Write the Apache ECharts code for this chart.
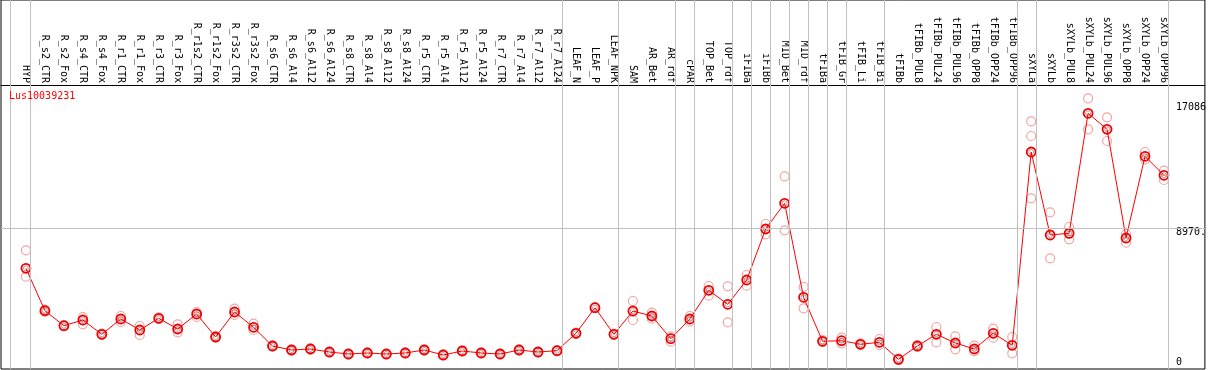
<!DOCTYPE html>
<html><head><meta charset="utf-8">
<script src="https://cdn.jsdelivr.net/npm/echarts@6/dist/echarts.min.js"></script>
<style>html,body{margin:0;padding:0;background:#fff}#c{width:1209px;height:370px}</style>
</head><body><div id="c"></div>
<script>
const geneName = 'Lus10039231';
const categories = ['HYP','R_s2_CTR','R_s2_Fox','R_s4_CTR','R_s4_Fox','R_r1_CTR','R_r1_Fox','R_r3_CTR','R_r3_Fox',
  'R_r1s2_CTR','R_r1s2_Fox','R_r3s2_CTR','R_r3s2_Fox','R_s6_CTR','R_s6_Al4','R_s6_Al12','R_s6_Al24',
  'R_s8_CTR','R_s8_Al4','R_s8_Al12','R_s8_Al24','R_r5_CTR','R_r5_Al4','R_r5_Al12','R_r5_Al24',
  'R_r7_CTR','R_r7_Al4','R_r7_Al12','R_r7_Al24','LEAF_N','LEAF_P','LEAF_NPK','SAM','AR_Bet','AR_rdf',
  'cPAR','TOP_Bet','TOP_rdf','iFIBa','iFIBb','MID_Bet','MID_rdf','tFIBa','tFIB_Gr','tFIB_Li','tFIB_Bi',
  'tFIBb','tFIBb_PUL8','tFIBb_PUL24','tFIBb_PUL96','tFIBb_OPP8','tFIBb_OPP24','tFIBb_OPP96',
  'sXYLa','sXYLb','sXYLb_PUL8','sXYLb_PUL24','sXYLb_PUL96','sXYLb_OPP8','sXYLb_OPP24','sXYLb_OPP96'];
const meanValues = [6364,3630,2663,3030,2108,3095,2386,3140,2450,3417,1934,3546,2560,1354,1096,1161,967,
  838,903,838,903,1096,774,1032,903,838,1096,967,1051,2173,3823,2108,3611,3288,1825,3095,4945,4043,5609,
  8898,10555,4494,1657,1696,1464,1593,496,1354,2108,1547,1161,2173,1399,13862,8511,8620,16358,15326,8317,13585,12360];
const repA = [7524,3700,2700,3224,2150,3288,2644,3200,2753,3546,1970,3759,2792,1390,1130,1200,1000,
  870,940,870,940,1130,810,1070,940,870,1130,1000,1090,2210,3860,2140,4255,3501,1954,3288,5223,5203,5932,
  9220,12296,5158,1741,1889,1520,1805,540,1420,2579,1979,1373,2469,1934,15842,9974,9027,17325,16100,8575,13862,12657];
const repB = [5822,3560,2620,2753,2070,2901,2063,3080,2237,3224,1900,3353,2386,1320,1060,1120,930,
  800,870,800,870,1060,740,1000,870,800,1060,930,1010,2140,3790,2070,3030,3114,1631,2921,4597,2882,5242,
  8556,8814,3785,1612,1528,1420,1418,460,1290,1593,1141,1012,1889,883,10877,7009,8234,15326,14572,8014,13392,12057];
const repExtra = [[53, 14894]];
const groupEnds = [0,28,31,34,35,37,38,39,40,41,42,43,45,52,53,60];
const firstSeparator = -0.84;
const yTickValues = [8970, 17086];
const yTickLabels = ['8970.', '17086'];
const yZeroLabel = '0';
const yRange = [-129, 23663];
const xRange = [-25/19, 1181/19];

const mono = 'DejaVu Sans Mono';
const repPoints = [];
categories.forEach((c, i) => { repPoints.push([i, repA[i]]); repPoints.push([i, repB[i]]); });
repExtra.forEach(p => repPoints.push(p));
const meanPoints = meanValues.map((v, i) => [i, v]);
const separators = [firstSeparator].concat(groupEnds.map(i => i + 0.25));

const chart = echarts.init(document.getElementById('c'));
chart.setOption({
  animation: false,
  backgroundColor: '#fff',
  title: { text: geneName, left: 9, top: 91, padding: 0,
    textStyle: { color: '#ff0000', fontFamily: mono, fontSize: 10, fontWeight: 'normal' } },
  grid: { left: 1, right: 2, top: 0, bottom: 1, show: true, borderColor: '#000', borderWidth: 1, backgroundColor: 'transparent' },
  xAxis: [
    { type: 'value', min: xRange[0], max: xRange[1], show: false },
    { type: 'value', min: xRange[0], max: xRange[1], position: 'top', offset: -85,
      axisLine: { show: true, onZero: false, lineStyle: { color: '#000', width: 1 } },
      axisTick: { show: false }, splitLine: { show: false },
      axisLabel: { show: true, rotate: 90, margin: 2, fontFamily: mono, fontSize: 10, color: '#000',
        customValues: categories.map((c, i) => i), formatter: v => categories[Math.round(v)] } }
  ],
  yAxis: [
    { type: 'value', min: yRange[0], max: yRange[1], position: 'right', offset: -31,
      axisLine: { show: false }, axisTick: { show: false }, splitLine: { show: false },
      axisLabel: { show: true, margin: 2, fontFamily: mono, fontSize: 10, color: '#000', verticalAlign: 'top',
        customValues: yTickValues, formatter: v => yTickLabels[yTickValues.indexOf(v)] } },
    { type: 'value', min: yRange[0], max: yRange[1], position: 'right', offset: -31,
      axisLine: { show: false }, axisTick: { show: false }, splitLine: { show: false },
      axisLabel: { show: true, margin: 2, fontFamily: mono, fontSize: 10, color: '#000', verticalAlign: 'bottom',
        customValues: [0], formatter: () => yZeroLabel } }
  ],
  series: [
    { type: 'scatter', xAxisIndex: 0, yAxisIndex: 0, data: repPoints, symbol: 'circle', symbolSize: 9,
      itemStyle: { color: 'transparent', borderColor: '#ef8f8f', borderWidth: 1.2 }, z: 2, silent: true,
      markLine: { silent: true, symbol: 'none', label: { show: false },
        lineStyle: { color: '#c0c0c0', width: 1, type: 'solid' },
        data: separators.map(x => ({ xAxis: x })).concat([{ yAxis: yTickValues[0] }]) } },
    { type: 'line', xAxisIndex: 0, yAxisIndex: 0, data: meanPoints, symbol: 'circle', symbolSize: 9,
      lineStyle: { color: '#ff0000', width: 1 },
      itemStyle: { color: 'transparent', borderColor: '#ee0000', borderWidth: 1.8 }, z: 3, silent: true },
    { type: 'scatter', xAxisIndex: 0, yAxisIndex: 0, data: meanPoints, symbol: 'circle', symbolSize: 5,
      itemStyle: { color: 'transparent', borderColor: 'rgba(90,0,0,0.6)', borderWidth: 0.8 }, z: 4, silent: true }
  ]
});
</script></body></html>
